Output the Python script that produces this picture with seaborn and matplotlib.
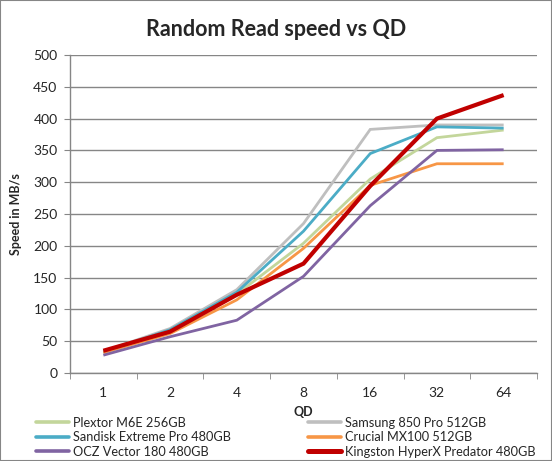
import numpy as np
import pandas as pd
import matplotlib
matplotlib.use("Agg")
import matplotlib.pyplot as plt
from matplotlib.lines import Line2D
from matplotlib.patches import Rectangle
import seaborn as sns

sns.set_style("white")
plt.rcParams['font.family'] = ['Lato', 'DejaVu Sans']

# queue depths on the x axis
qd = ["1", "2", "4", "8", "16", "32", "64"]

# random read speed in MB/s
plextor = [33, 66, 124, 204, 305, 370, 382]
samsung = [34, 70, 131, 235, 383, 390, 390]
sandisk = [33, 68, 127, 223, 345, 387, 385]
crucial = [32, 62, 115, 196, 295, 329, 329]
ocz = [28, 57, 83, 152, 263, 350, 351]
kingston = [35, 65, 123, 172, 294, 400, 437]

names = ["Plextor M6E 256GB", "Samsung 850 Pro 512GB", "Sandisk Extreme Pro 480GB",
         "Crucial MX100 512GB", "OCZ Vector 180 480GB", "Kingston HyperX Predator 480GB"]
series = [plextor, samsung, sandisk, crucial, ocz, kingston]
colors = ["#C3D69B", "#BFBFBF", "#4BACC6", "#F79646", "#8064A2", "#C00000"]
widths = [2.0, 2.0, 2.0, 2.0, 2.0, 3.0]

rows = []
for name, vals in zip(names, series):
    for i, v in enumerate(vals):
        rows.append({"drive": name, "pos": i, "speed": v})
df = pd.DataFrame(rows)

fig = plt.figure(figsize=(5.52, 4.61), dpi=100)
ax = fig.add_axes([70 / 552, 1 - 373 / 461, 467 / 552, 318 / 461])

sns.lineplot(data=df, x="pos", y="speed", hue="drive", size="drive",
             palette=dict(zip(names, colors)), sizes=dict(zip(names, widths)),
             hue_order=names, size_order=names, legend=False, ax=ax)
for line in ax.get_lines():
    line.set_solid_joinstyle("miter")
    line.set_solid_capstyle("butt")

ax.set_ylim(0, 500)
ax.set_xlim(-0.5, len(qd) - 0.5)
ax.set_yticks(np.arange(0, 501, 50))
ax.set_xticks(range(len(qd)))
ax.set_xticklabels(qd)
ax.set_xticks(np.arange(-0.5, len(qd), 1), minor=True)
ax.yaxis.grid(True, color="#868686", linewidth=1.0)
ax.set_axisbelow(True)
for s in ["top", "right"]:
    ax.spines[s].set_visible(False)
for s in ["left", "bottom"]:
    ax.spines[s].set_color("#868686")
    ax.spines[s].set_linewidth(1.0)
ax.tick_params(axis="y", which="major", length=4, color="#868686", labelsize=10, pad=5, left=True)
ax.tick_params(axis="x", which="major", length=0, labelsize=10, pad=10)
ax.tick_params(axis="x", which="minor", length=4, color="#868686", bottom=True)

ax.set_xlabel("QD", fontsize=9, fontweight="bold", labelpad=5)
ax.set_ylabel("Speed in MB/s", fontsize=9, fontweight="bold", labelpad=8)
fig.suptitle("Random Read speed vs QD", fontsize=15.5, fontweight="bold", y=0.958)

order = [0, 2, 4, 1, 3, 5]
handles = [Line2D([0], [0], color=colors[i], lw=widths[i] + 0.6) for i in order]
labels = [names[i] for i in order]
fig.legend(handles, labels, ncol=2, loc="lower left", bbox_to_anchor=(31 / 552, -0.004),
           frameon=False, fontsize=9.2, handlelength=2.6, handletextpad=0.3,
           columnspacing=6.0, labelspacing=0.2, borderaxespad=0)

fig.patches.append(Rectangle((0, 0), 1, 1, transform=fig.transFigure, fill=False,
                             edgecolor="#868686", linewidth=1.5))

fig.savefig("out.png", dpi=100)
